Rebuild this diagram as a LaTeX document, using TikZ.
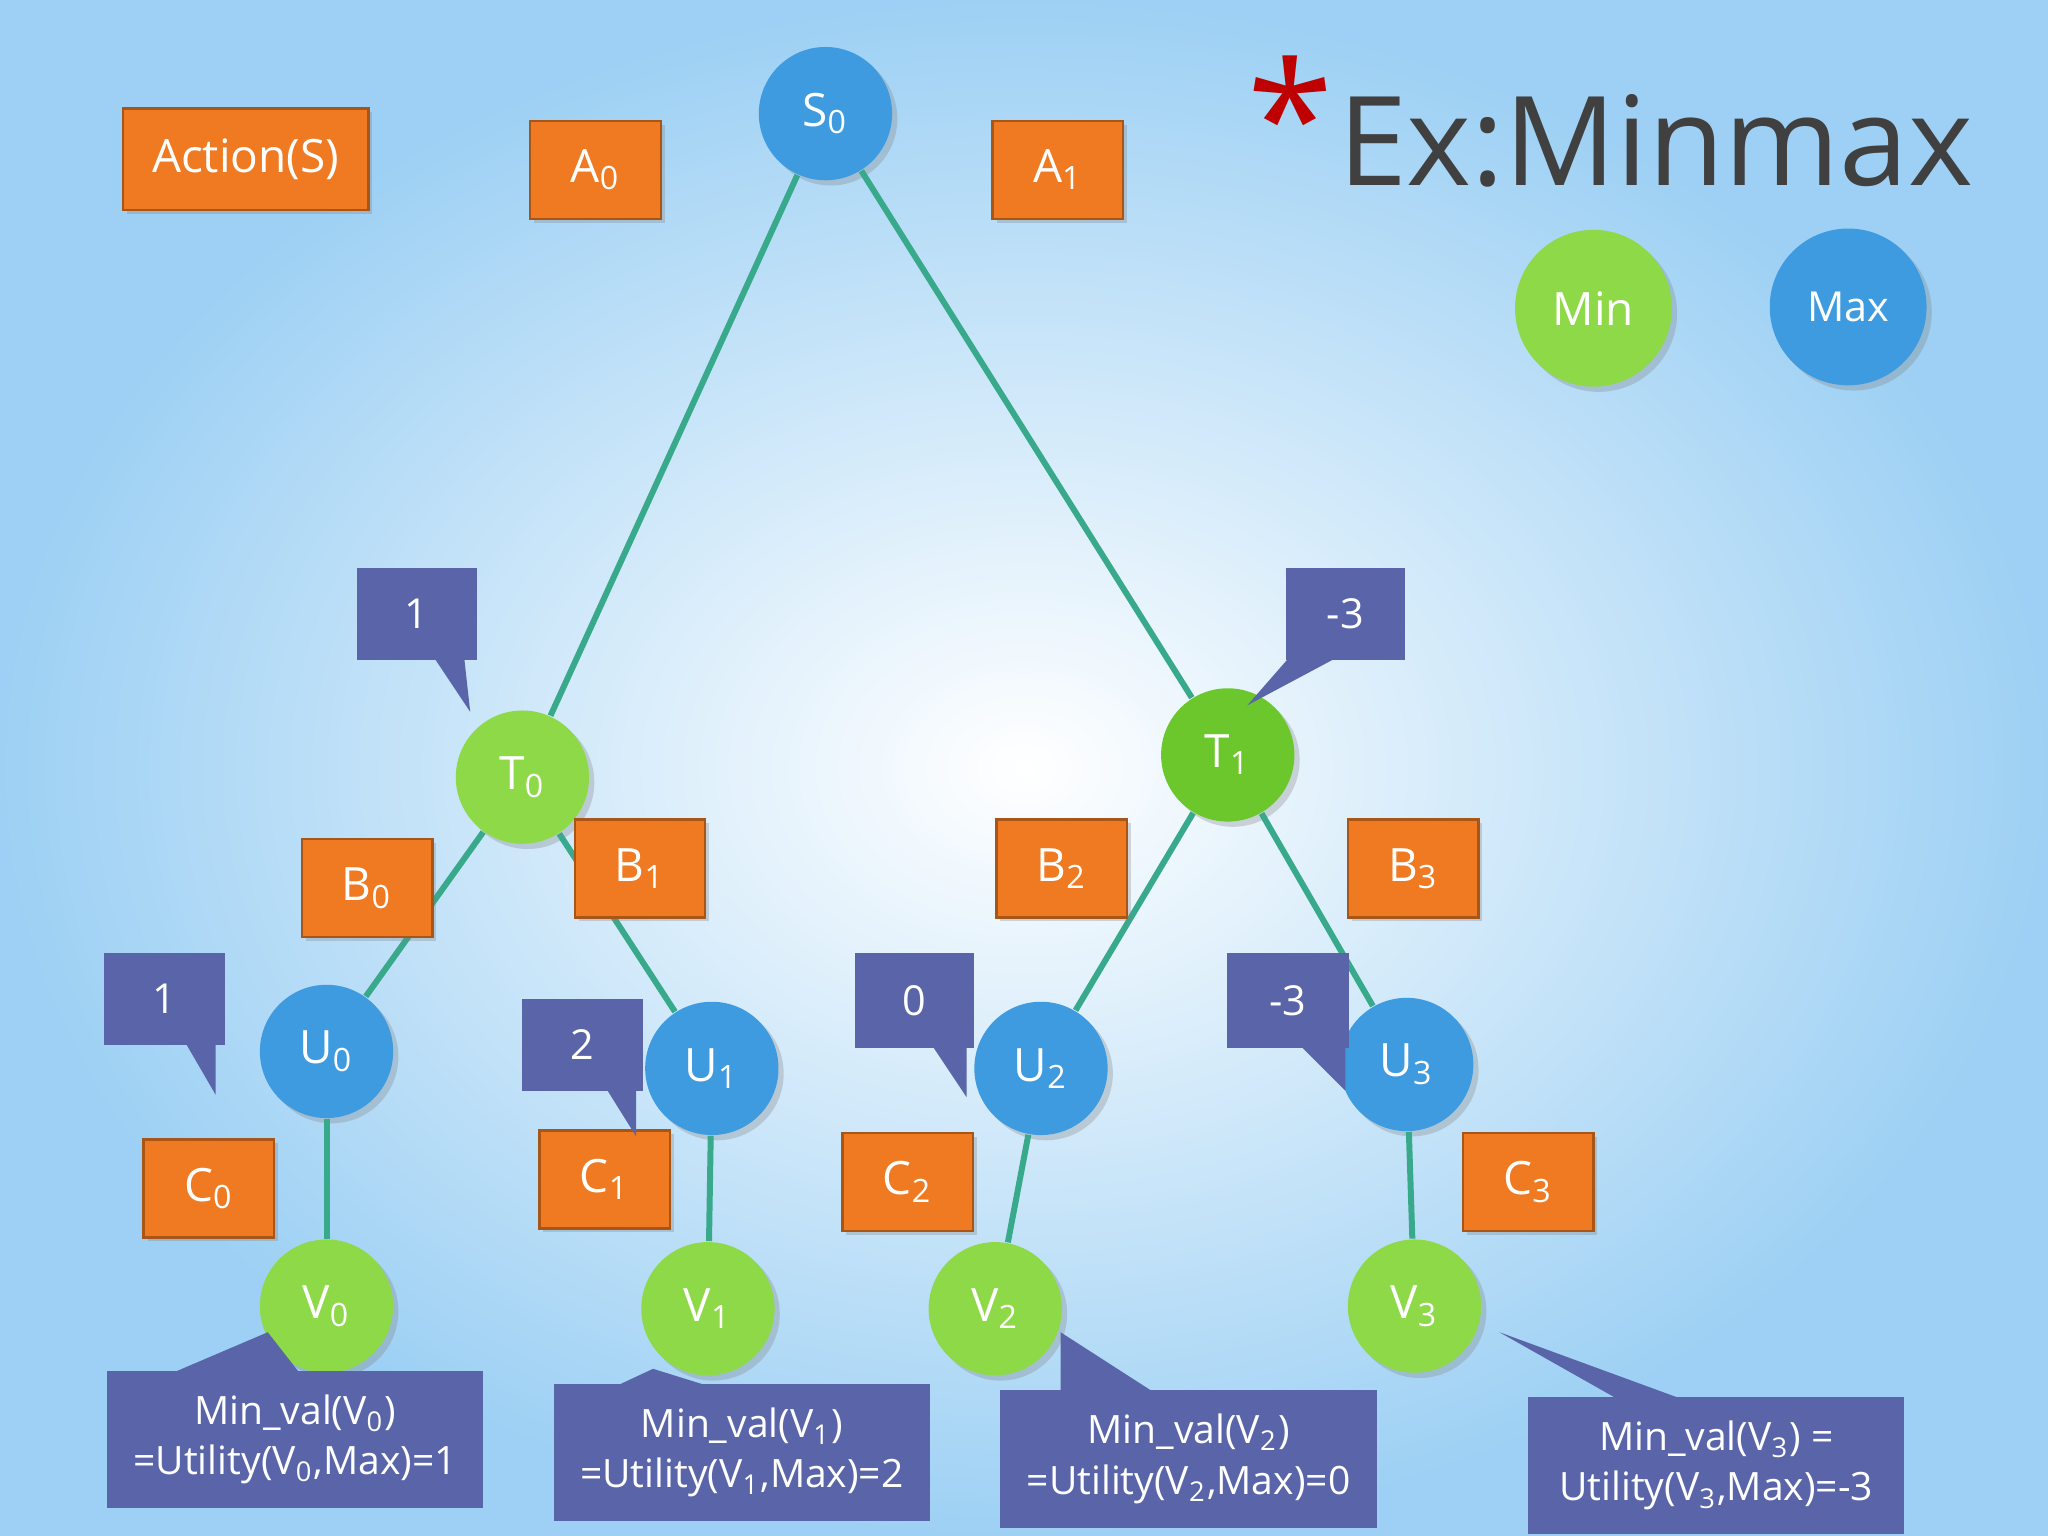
\documentclass[tikz,border=0pt]{standalone}
\usepackage{fontspec}
\setmainfont{Open Sans}
\usetikzlibrary{shadows}
\definecolor{bl}{HTML}{3E9BE0}
\definecolor{gr}{HTML}{8ED948}
\definecolor{gr2}{HTML}{6CC72C}
\definecolor{org}{HTML}{F07A22}
\definecolor{pur}{HTML}{5965A8}
\definecolor{edg}{HTML}{38A98A}
\definecolor{bg}{HTML}{8CC8F2}
\newcommand{\mysub}[1]{\textsubscript{#1}}
\tikzset{
 ball/.style={circle,minimum size=1.02cm,inner sep=0pt,text=white,font=\fontsize{10}{12}\selectfont,drop shadow={opacity=0.3,shadow xshift=0.04cm,shadow yshift=-0.04cm}},
 mx/.style={ball,fill=bl},
 mn/.style={ball,fill=gr},
 obox/.style={fill=org,draw=org!70!black,line width=0.5pt,text=white,minimum width=1cm,minimum height=0.75cm,inner sep=1pt,font=\fontsize{10}{12}\selectfont,drop shadow={opacity=0.3,shadow xshift=0.03cm,shadow yshift=-0.03cm}},
 pbox/.style={fill=pur,text=white,inner sep=1pt,font=\fontsize{9}{11}\selectfont},
 edge/.style={draw=edg,line width=1.3pt},
}
\begin{document}
\begin{tikzpicture}[x=0.01cm,y=-0.01cm]
\shade[inner color=white,outer color=bg!85!white] (0,0) rectangle (1568,1176);
\useasboundingbox (0,0) rectangle (1568,1176);
\node[mx] (S0) at (632,87) {S\mysub{0}};
\node[mn] (T0) at (400,595) {T\mysub{0}};
\node[mn,fill=gr2] (T1) at (940,578) {T\mysub{1}};
\node[mx] (U0) at (250,805) {U\mysub{0}};
\node[mx] (U1) at (545,818) {U\mysub{1}};
\node[mx] (U2) at (797,818) {U\mysub{2}};
\node[mx] (U3) at (1077,815) {U\mysub{3}};
\node[mn] (V0) at (250,1000) {V\mysub{0}};
\node[mn] (V1) at (542,1002) {V\mysub{1}};
\node[mn] (V2) at (762,1002) {V\mysub{2}};
\node[mn] (V3) at (1083,1000) {V\mysub{3}};
\node[mn,minimum size=1.2cm] (Min) at (1220,236) {Min};
\node[mx,minimum size=1.2cm,font=\fontsize{9}{11}\selectfont] (Max) at (1415,235) {Max};
\path[edge] (S0) -- (T0); \path[edge] (S0) -- (T1);
\path[edge] (T0) -- (U0); \path[edge] (T0) -- (U1);
\path[edge] (T1) -- (U2); \path[edge] (T1) -- (U3);
\path[edge] (U0) -- (V0); \path[edge] (U1) -- (V1);
\path[edge] (U2) -- (V2); \path[edge] (U3) -- (V3);
\node[obox,minimum width=1.88cm,minimum height=0.78cm] (act) at (188,122) {Action(S)};
\node[obox] (A0) at (456,130) {A\mysub{0}};
\node[obox] (A1) at (810,130) {A\mysub{1}};
\node[obox] (B0) at (281,680) {B\mysub{0}};
\node[obox] (B1) at (490,665) {B\mysub{1}};
\node[obox] (B2) at (813,665) {B\mysub{2}};
\node[obox] (B3) at (1082,665) {B\mysub{3}};
\node[obox] (C0) at (160,910) {C\mysub{0}};
\node[obox] (C1) at (463,903) {C\mysub{1}};
\node[obox] (C2) at (695,905) {C\mysub{2}};
\node[obox] (C3) at (1170,905) {C\mysub{3}};
\fill[pur] (330,500) -- (360,545) -- (355,500) -- cycle;
\node[pbox,minimum width=0.92cm,minimum height=0.7cm] (c1) at (319,470) {1};
\fill[pur] (990,500) -- (955,540) -- (1030,500) -- cycle;
\node[pbox,minimum width=0.91cm,minimum height=0.7cm] (c2) at (1030,470) {-3};
\fill[pur] (140,795) -- (165,838) -- (165,795) -- cycle;
\node[pbox,minimum width=0.92cm,minimum height=0.7cm] (c3) at (126,765) {1};
\fill[pur] (462,830) -- (487,870) -- (487,830) -- cycle;
\node[pbox,minimum width=0.92cm,minimum height=0.7cm] (c4) at (446,800) {2};
\fill[pur] (710,795) -- (740,840) -- (740,795) -- cycle;
\node[pbox,minimum width=0.91cm,minimum height=0.72cm] (c5) at (700,766) {0};
\fill[pur] (990,795) -- (1030,835) -- (1030,795) -- cycle;
\node[pbox,minimum width=0.93cm,minimum height=0.72cm] (c6) at (986,766) {-3};
\fill[pur] (130,1052) -- (205,1020) -- (230,1052) -- cycle;
\node[pbox,minimum width=2.88cm,minimum height=1.05cm,align=center,font=\fontsize{8.5}{11}\selectfont] (d0) at (226,1102) {Min\_val(V\mysub{0})\\=Utility(V\mysub{0},Max)=1};
\fill[pur] (470,1062) -- (500,1048) -- (545,1062) -- cycle;
\node[pbox,minimum width=2.88cm,minimum height=1.05cm,align=center,font=\fontsize{8.5}{11}\selectfont] (d1) at (568,1112) {Min\_val(V\mysub{1})\\=Utility(V\mysub{1},Max)=2};
\fill[pur] (812,1067) -- (812,1020) -- (885,1067) -- cycle;
\node[pbox,minimum width=2.89cm,minimum height=1.05cm,align=center,font=\fontsize{8.5}{11}\selectfont] (d2) at (910,1117) {Min\_val(V\mysub{2})\\=Utility(V\mysub{2},Max)=0};
\fill[pur] (1240,1072) -- (1148,1020) -- (1290,1072) -- cycle;
\node[pbox,minimum width=2.88cm,minimum height=1.05cm,align=center,font=\fontsize{8.5}{11}\selectfont] (d3) at (1314,1122) {Min\_val(V\mysub{3}) =\\Utility(V\mysub{3},Max)=-3};
\node[text=red!75!black,font=\fontsize{34}{34}\selectfont] (star) at (988,88) {*};
\node[anchor=west,text=black!75,font=\fontsize{27}{30}\selectfont] (title) at (1012,108) {Ex:Minmax};
\end{tikzpicture}
\end{document}
